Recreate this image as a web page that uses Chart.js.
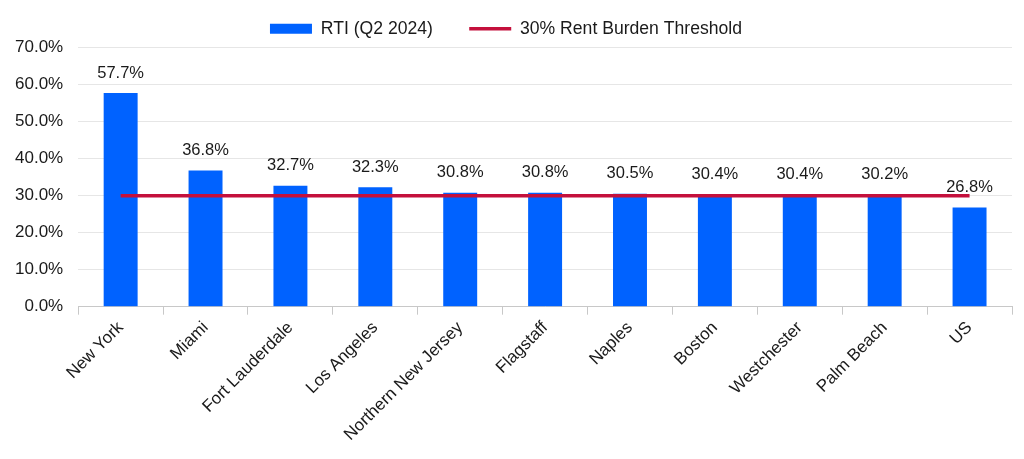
<!DOCTYPE html>
<html lang="en">
<head>
    <meta charset="UTF-8">
    <title>RTI by market</title>
    <script src="https://cdn.jsdelivr.net/npm/chart.js"></script>
    <style>
        html, body { margin: 0; padding: 0; background: #ffffff; }
        #wrap { width: 1024px; height: 459px; }
    </style>
</head>
<body>
    <div id="wrap"><canvas id="grafico"></canvas></div>

    <script>
        const markets = ['New York', 'Miami', 'Fort Lauderdale', 'Los Angeles', 'Northern New Jersey',
            'Flagstaff', 'Naples', 'Boston', 'Westchester', 'Palm Beach', 'US'];
        const rti = [57.7, 36.8, 32.7, 32.3, 30.8, 30.8, 30.5, 30.4, 30.4, 30.2, 26.8];
        const threshold = [30, 30, 30, 30, 30, 30, 30, 30, 30, 30, 30];
        const yTicks = [0, 10, 20, 30, 40, 50, 60, 70];

        const fontFamily = '"Liberation Sans", Arial, sans-serif';

        // draws the value above every bar
        const barLabels = {
            id: 'barLabels',
            afterDatasetsDraw(chart) {
                const ctx = chart.ctx;
                const meta = chart.getDatasetMeta(1);
                ctx.save();
                ctx.font = '16.5px ' + fontFamily;
                ctx.fillStyle = '#1a1a1a';
                ctx.textAlign = 'center';
                ctx.textBaseline = 'middle';
                meta.data.forEach((bar, i) => {
                    ctx.fillText(rti[i].toFixed(1) + '%', bar.x, bar.y - 20);
                });
                ctx.restore();
            }
        };

        new Chart(document.getElementById('grafico'), {
            data: {
                labels: markets,
                datasets: [
                    {
                        type: 'line',
                        label: '30% Rent Burden Threshold',
                        data: threshold,
                        borderColor: '#C4103C',
                        backgroundColor: '#C4103C',
                        borderWidth: 3.5,
                        pointRadius: 0,
                        pointStyle: 'line',
                        order: 0
                    },
                    {
                        type: 'bar',
                        label: 'RTI (Q2 2024)',
                        data: rti,
                        backgroundColor: '#0062FF',
                        pointStyle: 'rect',
                        barPercentage: 0.4,
                        categoryPercentage: 1.0,
                        order: 1
                    }
                ]
            },
            options: {
                responsive: true,
                maintainAspectRatio: false,
                animation: false,
                layout: { padding: { left: 0, right: 12, top: 13, bottom: 11 } },
                plugins: {
                    legend: {
                        position: 'top',
                        reverse: true,
                        labels: {
                            usePointStyle: true,
                            pointStyleWidth: 42,
                            boxHeight: 10,
                            color: '#1a1a1a',
                            font: { family: fontFamily, size: 17.6 },
                            padding: 7,
                            generateLabels(chart) {
                                const items = Chart.defaults.plugins.legend.labels.generateLabels(chart);
                                // a bit more room after the bar entry, like the original
                                items.forEach(it => { if (it.datasetIndex === 1) it.text += '      '; });
                                return items;
                            }
                        }
                    },
                    tooltip: { enabled: false }
                },
                scales: {
                    x: {
                        offset: true,
                        grid: {
                            offset: true,
                            drawOnChartArea: false,
                            color: '#c8c8c8',
                            tickLength: 8
                        },
                        border: { color: '#c8c8c8' },
                        ticks: {
                            minRotation: 45,
                            maxRotation: 45,
                            color: '#1a1a1a',
                            font: { family: fontFamily, size: 17 }
                        }
                    },
                    y: {
                        min: yTicks[0],
                        max: yTicks[yTicks.length - 1],
                        afterBuildTicks(axis) {
                            axis.ticks = yTicks.map(v => ({ value: v }));
                        },
                        grid: { color: '#e6e6e6', drawTicks: false },
                        border: { display: false },
                        ticks: {
                            padding: 15,
                            color: '#1a1a1a',
                            font: { family: fontFamily, size: 17 },
                            callback: v => v.toFixed(1) + '%'
                        }
                    }
                }
            },
            plugins: [barLabels]
        });
    </script>
</body>
</html>
